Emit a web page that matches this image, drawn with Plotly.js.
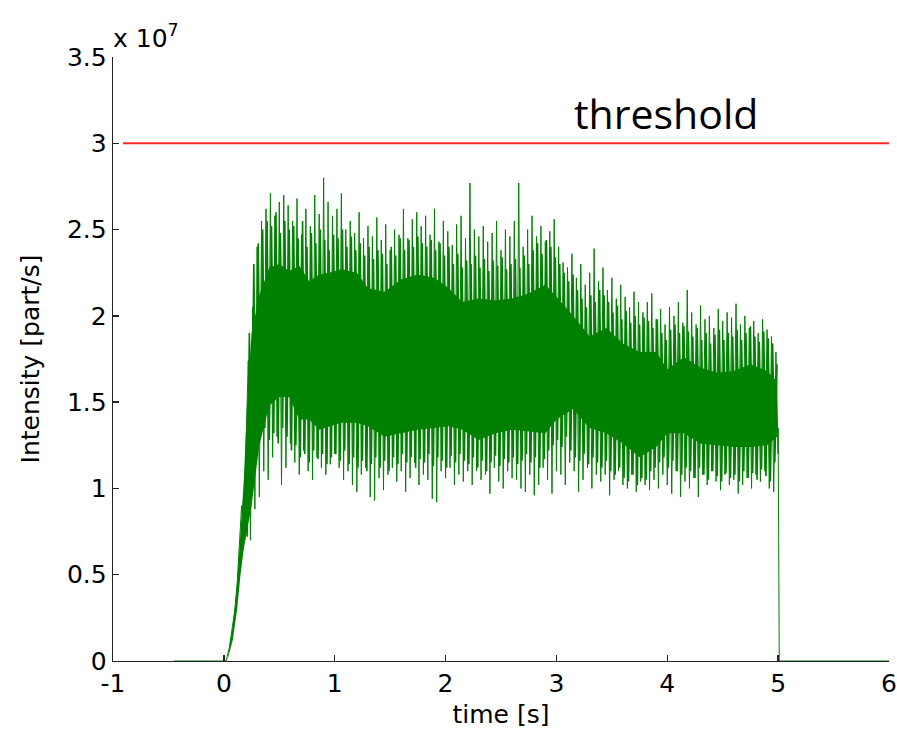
<!DOCTYPE html>
<html>
<head>
<meta charset="utf-8">
<script src="https://cdn.plot.ly/plotly-3.0.1.min.js"></script>
<style>html,body{margin:0;padding:0;background:#fff;}#chart{width:897px;height:744px;}</style>
</head>
<body>
<div id="chart"></div>
<script>
// Intensity values in units of 1e7 part/s, time in s
// lead-in (flat zero then ramp-up)
var preT = [-0.45, 0.02, 0.05, 0.08, 0.10, 0.12, 0.14, 0.16, 0.18, 0.20];
var preY = [0, 0, 0.08, 0.20, 0.30, 0.45, 0.66, 0.90, 0.75, 1.30];

// noisy plateau, series A: spike peaks (hi) and troughs (lo), one pair per 0.04 s from 0.22 s
var spikeStart = 0.22;
var spikeStep = 0.04;
var spikeHi = [
  1.74, 2.05, 2.40, 2.55, 2.62, 2.71, 2.58, 2.66, 2.70, 2.64,
  2.55, 2.68, 2.47, 2.62, 2.52, 2.70, 2.59, 2.80, 2.66, 2.58,
  2.62, 2.71, 2.50, 2.55, 2.48, 2.60, 2.45, 2.52, 2.46, 2.57,
  2.44, 2.53, 2.38, 2.50, 2.47, 2.62, 2.45, 2.56, 2.60, 2.52,
  2.58, 2.47, 2.62, 2.43, 2.55, 2.49, 2.41, 2.53, 2.58, 2.45,
  2.77, 2.50, 2.46, 2.52, 2.43, 2.48, 2.55, 2.38, 2.50, 2.46,
  2.55, 2.77, 2.40, 2.50, 2.58, 2.46, 2.52, 2.43, 2.49, 2.56,
  2.40, 2.31, 2.28, 2.36, 2.22, 2.30, 2.18, 2.25, 2.39, 2.20,
  2.28, 2.15, 2.22, 2.10, 2.18, 2.11, 2.05, 2.14, 2.08, 2.02,
  2.08, 2.13, 1.98, 2.04, 1.95, 2.05, 2.00, 2.08, 1.96, 2.15,
  2.02, 1.95, 2.06, 1.98, 2.00, 1.93, 2.04, 1.97, 2.02, 1.99,
  2.07, 1.95, 2.00, 1.93, 1.97, 1.90, 1.98, 1.92, 1.88, 1.79
];
var spikeLo = [
  0.70, 0.88, 0.95, 1.10, 1.05, 1.18, 1.30, 1.02, 1.12, 1.26,
  1.15, 1.08, 1.22, 1.10, 1.05, 1.18, 1.12, 1.08, 1.14, 1.20,
  1.12, 1.05, 1.10, 1.02, 0.98, 1.08, 1.12, 0.95, 0.93, 1.06,
  0.99, 1.08, 1.12, 1.04, 1.10, 0.98, 1.06, 1.15, 1.02, 1.08,
  1.05, 0.94, 0.92, 1.10, 1.06, 1.12, 1.02, 1.08, 1.04, 1.10,
  1.02, 1.10, 1.05, 1.08, 0.97, 1.12, 1.04, 1.00, 1.10, 1.06,
  1.05, 1.00, 0.98, 1.08, 0.96, 1.02, 1.12, 1.05, 0.97, 1.10,
  1.08, 1.02, 1.15, 1.10, 0.98, 1.05, 1.12, 1.00, 1.08, 1.04,
  1.08, 0.96, 1.05, 1.10, 1.02, 1.00, 1.08, 0.98, 1.04, 1.02,
  0.99, 1.05, 1.00, 1.08, 1.02, 0.97, 1.10, 0.95, 1.04, 1.00,
  1.06, 0.95, 1.08, 1.02, 1.10, 1.04, 0.99, 1.08, 1.02, 1.05,
  0.97, 1.02, 1.06, 1.00, 1.08, 1.04, 1.10, 1.00, 0.98, 1.20
];
// series B: smaller fluctuations, trough at 0.21 s + 0.04 s*i, peak 0.02 s later
var fineStart = 0.21;
var fineLo = [
  0.72, 1.02, 1.20, 1.30, 1.35, 1.28, 1.32, 1.26, 1.35, 1.30,
  1.22, 1.25, 1.18, 1.20, 1.15, 1.22, 1.17, 1.20, 1.14, 1.18,
  1.20, 1.16, 1.22, 1.14, 1.18, 1.12, 1.16, 1.10, 1.14, 1.18,
  1.12, 1.16, 1.10, 1.18, 1.14, 1.20, 1.15, 1.18, 1.12, 1.17,
  1.15, 1.20, 1.13, 1.18, 1.16, 1.12, 1.19, 1.15, 1.20, 1.16,
  1.14, 1.18, 1.12, 1.16, 1.10, 1.15, 1.19, 1.13, 1.17, 1.15,
  1.18, 1.14, 1.16, 1.20, 1.15, 1.18, 1.12, 1.17, 1.22, 1.25,
  1.28, 1.24, 1.30, 1.22, 1.18, 1.16, 1.20, 1.14, 1.18, 1.15,
  1.12, 1.16, 1.10, 1.08, 1.12, 1.06, 1.04, 1.08, 1.02, 1.06,
  1.05, 1.10, 1.12, 1.15, 1.18, 1.12, 1.16, 1.10, 1.08, 1.12,
  1.10, 1.06, 1.12, 1.08, 1.05, 1.10, 1.07, 1.04, 1.09, 1.06,
  1.08, 1.04, 1.10, 1.06, 1.09, 1.05, 1.11, 1.07, 1.04, 1.15
];
var fineHi = [
  1.90, 2.30, 2.42, 2.50, 2.55, 2.52, 2.60, 2.48, 2.55, 2.50,
  2.52, 2.45, 2.55, 2.40, 2.48, 2.42, 2.50, 2.44, 2.38, 2.47,
  2.45, 2.50, 2.40, 2.46, 2.38, 2.42, 2.35, 2.40, 2.33, 2.38,
  2.36, 2.30, 2.40, 2.35, 2.45, 2.38, 2.44, 2.40, 2.46, 2.42,
  2.40, 2.44, 2.38, 2.42, 2.35, 2.40, 2.30, 2.36, 2.28, 2.32,
  2.30, 2.35, 2.28, 2.33, 2.26, 2.32, 2.29, 2.34, 2.27, 2.30,
  2.33, 2.28, 2.35, 2.30, 2.38, 2.42, 2.36, 2.44, 2.40, 2.34,
  2.30, 2.25, 2.20, 2.24, 2.15, 2.10, 2.05, 2.12, 2.08, 2.15,
  2.12, 2.08, 2.02, 2.06, 1.98, 2.03, 1.96, 2.00, 1.95, 1.99,
  1.97, 1.93, 1.98, 1.90, 1.86, 1.92, 1.95, 1.90, 1.94, 1.91,
  1.88, 1.93, 1.86, 1.90, 1.84, 1.89, 1.92, 1.86, 1.90, 1.88,
  1.92, 1.86, 1.90, 1.94, 1.88, 1.85, 1.91, 1.87, 1.84, 1.72
];
// tail (beam off)
var postT = [5.00, 5.01, 6.00];
var postY = [1.35, 0, 0];

// dense core of the signal (upper / lower edge of the solid band)
var coreT  = [0.03, 0.08, 0.12, 0.15, 0.18, 0.21, 0.25, 0.32, 0.41, 0.50, 0.59, 0.68, 0.77, 0.86, 0.95, 1.06, 1.20, 1.30, 1.45, 1.60, 1.75, 1.90, 2.03, 2.15, 2.30, 2.45, 2.60, 2.75, 2.90, 3.00, 3.15, 3.30, 3.45, 3.60, 3.75, 3.90, 4.00, 4.15, 4.30, 4.45, 4.60, 4.75, 4.90, 4.99];
var coreHi = [0.00, 0.20, 0.45, 0.75, 1.05, 1.50, 1.90, 2.12, 2.28, 2.30, 2.26, 2.29, 2.20, 2.24, 2.25, 2.27, 2.25, 2.16, 2.14, 2.21, 2.24, 2.22, 2.16, 2.08, 2.10, 2.09, 2.10, 2.13, 2.18, 2.11, 2.00, 1.88, 1.93, 1.84, 1.79, 1.79, 1.69, 1.76, 1.70, 1.67, 1.68, 1.72, 1.68, 1.62];
var coreLo = [0.00, 0.12, 0.30, 0.50, 0.65, 0.75, 0.90, 1.25, 1.48, 1.53, 1.53, 1.40, 1.40, 1.34, 1.36, 1.38, 1.38, 1.36, 1.30, 1.32, 1.34, 1.35, 1.36, 1.34, 1.28, 1.32, 1.34, 1.33, 1.32, 1.40, 1.46, 1.35, 1.32, 1.26, 1.18, 1.24, 1.32, 1.32, 1.26, 1.25, 1.24, 1.24, 1.25, 1.30];

// threshold
var thrT = [-0.91, 6.0];
var thrY = [3.0, 3.0];

var xTicks = [-1, 0, 1, 2, 3, 4, 5, 6];
var xTickText = ['-1', '0', '1', '2', '3', '4', '5', '6'];
var yTicks = [0, 0.5, 1, 1.5, 2, 2.5, 3, 3.5];
var yTickText = ['0', '0.5', '1', '1.5', '2', '2.5', '3', '3.5'];

// build signal traces
var sigT = preT.slice(), sigY = preY.slice();
for (var i = 0; i < spikeHi.length; i++) {
  var t0 = spikeStart + i * spikeStep;
  sigT.push(t0); sigY.push(spikeHi[i]);
  sigT.push(t0 + spikeStep / 2); sigY.push(spikeLo[i]);
}
sigT = sigT.concat(postT); sigY = sigY.concat(postY);

var fT = [], fY = [];
for (var j = 0; j < fineHi.length; j++) {
  var t1 = fineStart + j * spikeStep;
  fT.push(t1); fY.push(fineLo[j]);
  fT.push(t1 + spikeStep / 2); fY.push(fineHi[j]);
}

var polyT = coreT.concat(coreT.slice().reverse());
var polyY = coreHi.concat(coreLo.slice().reverse());

var green = 'rgb(0,128,0)';
var traces = [
  {x: polyT, y: polyY, mode: 'lines', fill: 'toself', fillcolor: green, line: {width: 0, color: green}, hoverinfo: 'skip', showlegend: false},
  {x: fT, y: fY, mode: 'lines', line: {width: 1.6, color: green}, showlegend: false},
  {x: sigT, y: sigY, mode: 'lines', line: {width: 1, color: green}, showlegend: false},
  {x: thrT, y: thrY, mode: 'lines', line: {width: 2, color: 'rgb(255,40,40)'}, showlegend: false}
];

var axFont = {family: 'DejaVu Sans, sans-serif', size: 25, color: '#000'};
var layout = {
  width: 897, height: 744,
  margin: {l: 113, r: 8, t: 57, b: 83},
  paper_bgcolor: '#fff', plot_bgcolor: '#fff',
  font: axFont,
  xaxis: {
    range: [-1, 6], tickvals: xTicks, ticktext: xTickText,
    ticks: 'inside', ticklen: 6, tickwidth: 1.3, tickcolor: '#222',
    showline: true, linecolor: '#222', linewidth: 1.3, mirror: false,
    showgrid: false, zeroline: false, tickfont: axFont,
    title: {text: 'time [s]', font: axFont, standoff: 8}
  },
  yaxis: {
    range: [0, 3.5], tickvals: yTicks, ticktext: yTickText,
    ticks: 'inside', ticklen: 6, tickwidth: 1.3, tickcolor: '#222',
    showline: true, linecolor: '#222', linewidth: 1.3, mirror: false,
    showgrid: false, zeroline: false, tickfont: axFont,
    title: {text: 'Intensity [part/s]', font: axFont, standoff: 20}
  },
  annotations: [
    {text: 'x 10<sup>7</sup>', xref: 'paper', yref: 'paper', x: 0, y: 1, xanchor: 'left', yanchor: 'bottom', xshift: -2, yshift: 2, showarrow: false, font: axFont},
    {text: 'threshold', xref: 'x', yref: 'y', x: 3.99, y: 3.0, xanchor: 'center', yanchor: 'bottom', yshift: 0, showarrow: false, font: {family: 'Open Sans, sans-serif', size: 41, color: '#000'}}
  ]
};

Plotly.newPlot('chart', traces, layout, {displayModeBar: false, staticPlot: true});
</script>
</body>
</html>
